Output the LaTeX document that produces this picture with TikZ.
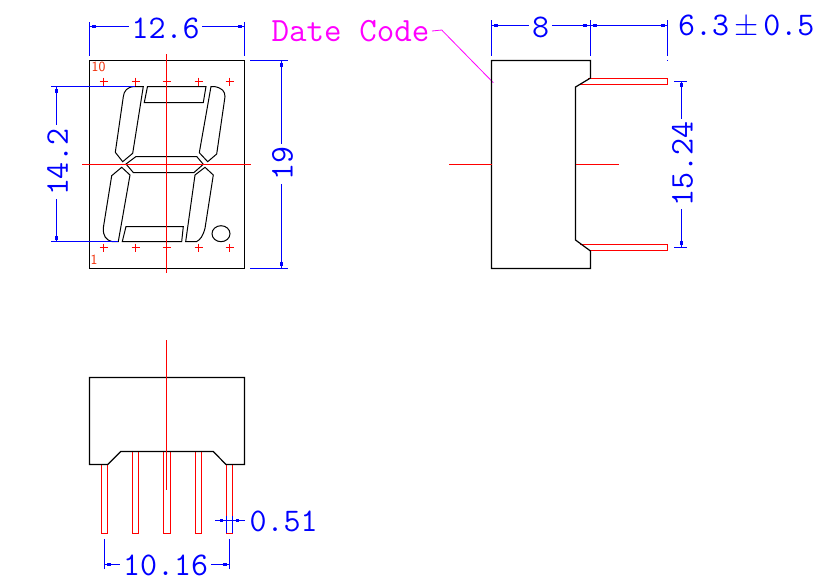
\documentclass[tikz,border=0pt]{standalone}
\usepackage{amsmath, amssymb}
\definecolor{dateMagenta}{RGB}{255,0,255}
\definecolor{pinOrange}{RGB}{240,40,0}

\begin{document}
\begin{tikzpicture}[x = 1pt, y = -1pt, font=\ttfamily]
	\tikzstyle{bodyStyle} = [draw = black, line width = 1.2pt, line join = miter]
	\tikzstyle{segStyle} = [draw = black, line width = 1pt, line join = miter]
	\tikzstyle{pinStyle} = [draw = red, line width = 1.2pt]
	\tikzstyle{axisStyle} = [draw = red, line width = 1.2pt]
	\tikzstyle{plusStyle} = [draw = red, line width = 1pt]
	\tikzstyle{dimStyle} = [draw = blue, line width = 1.2pt]
	\tikzstyle{dotStyle} = [shape = rectangle, fill = blue, inner sep = 0pt, minimum size = 3.5pt]
	\tikzstyle{dimLabel} = [text = blue, inner sep = 2.5pt, font = \fontsize{33}{33}\ttfamily]
	\tikzstyle{pinLabel} = [text = pinOrange, inner sep = 0pt, font = \fontsize{14}{14}\sffamily]
	\useasboundingbox (0,0) rectangle (832,587);

	% front view
	\draw[bodyStyle] (89.5,60.5) rectangle (244.5,268.5);
	\draw[segStyle] (147.5,86.5) -- (206,86.5) -- (203.3,102.5) -- (144.3,102.5) -- cycle;
	\draw[segStyle] (143.3,86.5) -- (134.3,86.5) .. controls (127,87) and (124,91) .. (123.3,96.7) -- (115.3,152.3) -- (122.7,161.7) -- (132.7,153.3) -- cycle;
	\draw[segStyle] (211,86.5) -- (214.3,86.5) .. controls (222,88) and (225,91) .. (225,96.7) -- (216.7,154) -- (207.7,161.7) -- (199.3,152.7) -- cycle;
	\draw[segStyle] (126,164) -- (136,156.5) -- (196.7,156.5) -- (203.3,164.3) -- (194,172.5) -- (133.3,172.5) -- cycle;
	\draw[segStyle] (121.7,167.3) -- (130,175) -- (118.3,241.5) -- (111.7,241.5) .. controls (106,240) and (103,236) .. (103.3,228) -- (111.7,175.7) -- cycle;
	\draw[segStyle] (205,167.3) -- (213.3,175) -- (205,228.3) .. controls (203,236) and (200,240) .. (196.7,241.5) -- (185.7,241.5) -- (195,175) -- cycle;
	\draw[segStyle] (126,226.5) -- (183.3,226.5) -- (181.7,241.5) -- (122.3,241.5) -- cycle;
	\draw[segStyle] (221,233.7) ellipse [x radius = 9, y radius = 8];
	\draw[axisStyle] (166.5,54) -- (166.5,273);
	\draw[axisStyle] (82,164.5) -- (251,164.5);
	\draw[plusStyle] (99.5,81.5) -- (107.5,81.5) (103.5,77.5) -- (103.5,85.5);
	\draw[plusStyle] (131.5,81.5) -- (139.5,81.5) (135.5,77.5) -- (135.5,85.5);
	\draw[plusStyle] (162.5,81.5) -- (170.5,81.5) (166.5,77.5) -- (166.5,85.5);
	\draw[plusStyle] (194.5,81.5) -- (202.5,81.5) (198.5,77.5) -- (198.5,85.5);
	\draw[plusStyle] (225.5,81.5) -- (233.5,81.5) (229.5,77.5) -- (229.5,85.5);
	\draw[plusStyle] (99.5,247.5) -- (107.5,247.5) (103.5,243.5) -- (103.5,251.5);
	\draw[plusStyle] (131.5,247.5) -- (139.5,247.5) (135.5,243.5) -- (135.5,251.5);
	\draw[plusStyle] (162.5,247.5) -- (170.5,247.5) (166.5,243.5) -- (166.5,251.5);
	\draw[plusStyle] (194.5,247.5) -- (202.5,247.5) (198.5,243.5) -- (198.5,251.5);
	\draw[plusStyle] (225.5,247.5) -- (233.5,247.5) (229.5,243.5) -- (229.5,251.5);
	\node[pinLabel] (pinten) at (98.5,67) {10};
	\node[pinLabel] (pinone) at (94,260) {1};

	% front view dimensions
	\node[dimLabel] (width) at (165.5,28) {12.6};
	\node[dotStyle] (d1) at (94,26.5) {};
	\node[dotStyle] (d2) at (240,26.5) {};
	\draw[dimStyle] (89.5,22) -- (89.5,56);
	\draw[dimStyle] (244.5,22) -- (244.5,56);
	\draw[dimStyle] (89.5,26.5) -- (width.west |- d1);
	\draw[dimStyle] (244.5,26.5) -- (width.east |- d2);
	\node[dimLabel, rotate = 90] (digit) at (57.5,162) {14.2};
	\node[dotStyle] (d3) at (56.5,91) {};
	\node[dotStyle] (d4) at (56.5,238) {};
	\draw[dimStyle] (51,86.5) -- (135,86.5);
	\draw[dimStyle] (51,241.5) -- (118,241.5);
	\draw[dimStyle] (56.5,86.5) -- (d3 |- digit.east);
	\draw[dimStyle] (56.5,241.5) -- (d4 |- digit.west);
	\node[dimLabel, rotate = 90] (height) at (282.5,164) {19};
	\node[dotStyle] (d5) at (281.5,65) {};
	\node[dotStyle] (d6) at (281.5,264) {};
	\draw[dimStyle] (250,60.5) -- (288,60.5);
	\draw[dimStyle] (250,268.5) -- (288,268.5);
	\draw[dimStyle] (281.5,60.5) -- (d5 |- height.east);
	\draw[dimStyle] (281.5,268.5) -- (d6 |- height.west);

	% date code
	\node[dimLabel, text = dateMagenta, font = \fontsize{34}{34}\ttfamily, anchor = west] (date) at (269,31) {Date Code};
	\coordinate (dateend) at (493.3,82.7);
	\draw[draw = dateMagenta, line width = 0.8pt] (date.east) -- (441.7,30) -- (dateend);

	% side view
	\draw[pinStyle] (580,84.5) -- (667.5,84.5) -- (667.5,78.5) -- (588,78.5);
	\draw[pinStyle] (580,244.5) -- (667.5,244.5) -- (667.5,250.5) -- (588.7,250.5);
	\draw[bodyStyle] (491.5,60.5) -- (590.5,60.5) -- (590.5,78) -- (575.5,87) -- (575.5,240) -- (590.5,251) -- (590.5,268.5) -- (491.5,268.5) -- cycle;
	\draw[axisStyle] (449,164.5) -- (491.5,164.5);
	\draw[axisStyle] (575.5,164.5) -- (618.7,164.5);

	% side view dimensions
	\node[dimLabel] (depth) at (540.5,27) {8};
	\node[dotStyle] (d7) at (496,25.5) {};
	\node[dotStyle] (d8) at (585,25.5) {};
	\node[dotStyle] (d9) at (595,25.5) {};
	\node[dotStyle] (d10) at (663,25.5) {};
	\draw[dimStyle] (491.5,20) -- (491.5,56);
	\draw[dimStyle] (590.5,20) -- (590.5,56);
	\draw[dimStyle] (667.5,20) -- (667.5,56);
	\draw[dimStyle] (667.5,60) -- (667.5,61);
	\draw[dimStyle] (491.5,25.5) -- (depth.west |- d7);
	\draw[dimStyle] (590.5,25.5) -- (depth.east |- d8);
	\draw[dimStyle] (590.5,25.5) -- (667.5,25.5);
	\node[dimLabel, anchor = west] (lead) at (675.5,27) {6.3\hspace{5pt}\scalebox{1.25}{$\pm$}\hspace{5pt}0.5};
	\node[dimLabel, rotate = 90] (pitch) at (682.5,164) {15.24};
	\node[dotStyle] (d11) at (681.5,85) {};
	\node[dotStyle] (d12) at (681.5,243) {};
	\draw[dimStyle] (674,81.5) -- (687,81.5);
	\draw[dimStyle] (674,247.5) -- (687,247.5);
	\draw[dimStyle] (681.5,81.5) -- (d11 |- pitch.east);
	\draw[dimStyle] (681.5,247.5) -- (d12 |- pitch.west);

	% bottom view
	\draw[pinStyle] (101.5,464.5) -- (101.5,533.5) -- (107.5,533.5) -- (107.5,464.5);
	\draw[pinStyle] (132.5,451.5) -- (132.5,533.5) -- (138.5,533.5) -- (138.5,451.5);
	\draw[pinStyle] (163.5,451.5) -- (163.5,533.5) -- (170.5,533.5) -- (170.5,451.5);
	\draw[pinStyle] (195.5,451.5) -- (195.5,533.5) -- (201.5,533.5) -- (201.5,451.5);
	\draw[pinStyle] (226.5,464.5) -- (226.5,533.5) -- (232.5,533.5) -- (232.5,464.5);
	\draw[bodyStyle] (89.5,377.5) -- (244.5,377.5) -- (244.5,464.5) -- (226,464.5) -- (213.3,451.5) -- (120.7,451.5) -- (107.7,464.5) -- (89.5,464.5) -- cycle;
	\draw[axisStyle] (166.5,340) -- (166.5,490);

	% bottom view dimensions
	\node[dimLabel, anchor = west] (pinwidth) at (247,521) {0.51};
	\draw[dimStyle] (215,520.5) -- (245,520.5);
	\draw[dimStyle] (226.5,516) -- (226.5,533);
	\draw[dimStyle] (232.5,516) -- (232.5,533);
	\node[dotStyle] (d13) at (221.7,520.5) {};
	\node[dotStyle] (d14) at (237.7,520.5) {};
	\node[dimLabel] (span) at (165.5,565.5) {10.16};
	\node[dotStyle] (d15) at (109,564.5) {};
	\node[dotStyle] (d16) at (225,564.5) {};
	\draw[dimStyle] (104.5,539) -- (104.5,569);
	\draw[dimStyle] (229.5,539) -- (229.5,569);
	\draw[dimStyle] (104.5,564.5) -- (span.west |- d15);
	\draw[dimStyle] (229.5,564.5) -- (span.east |- d16);
\end{tikzpicture}
\end{document}
